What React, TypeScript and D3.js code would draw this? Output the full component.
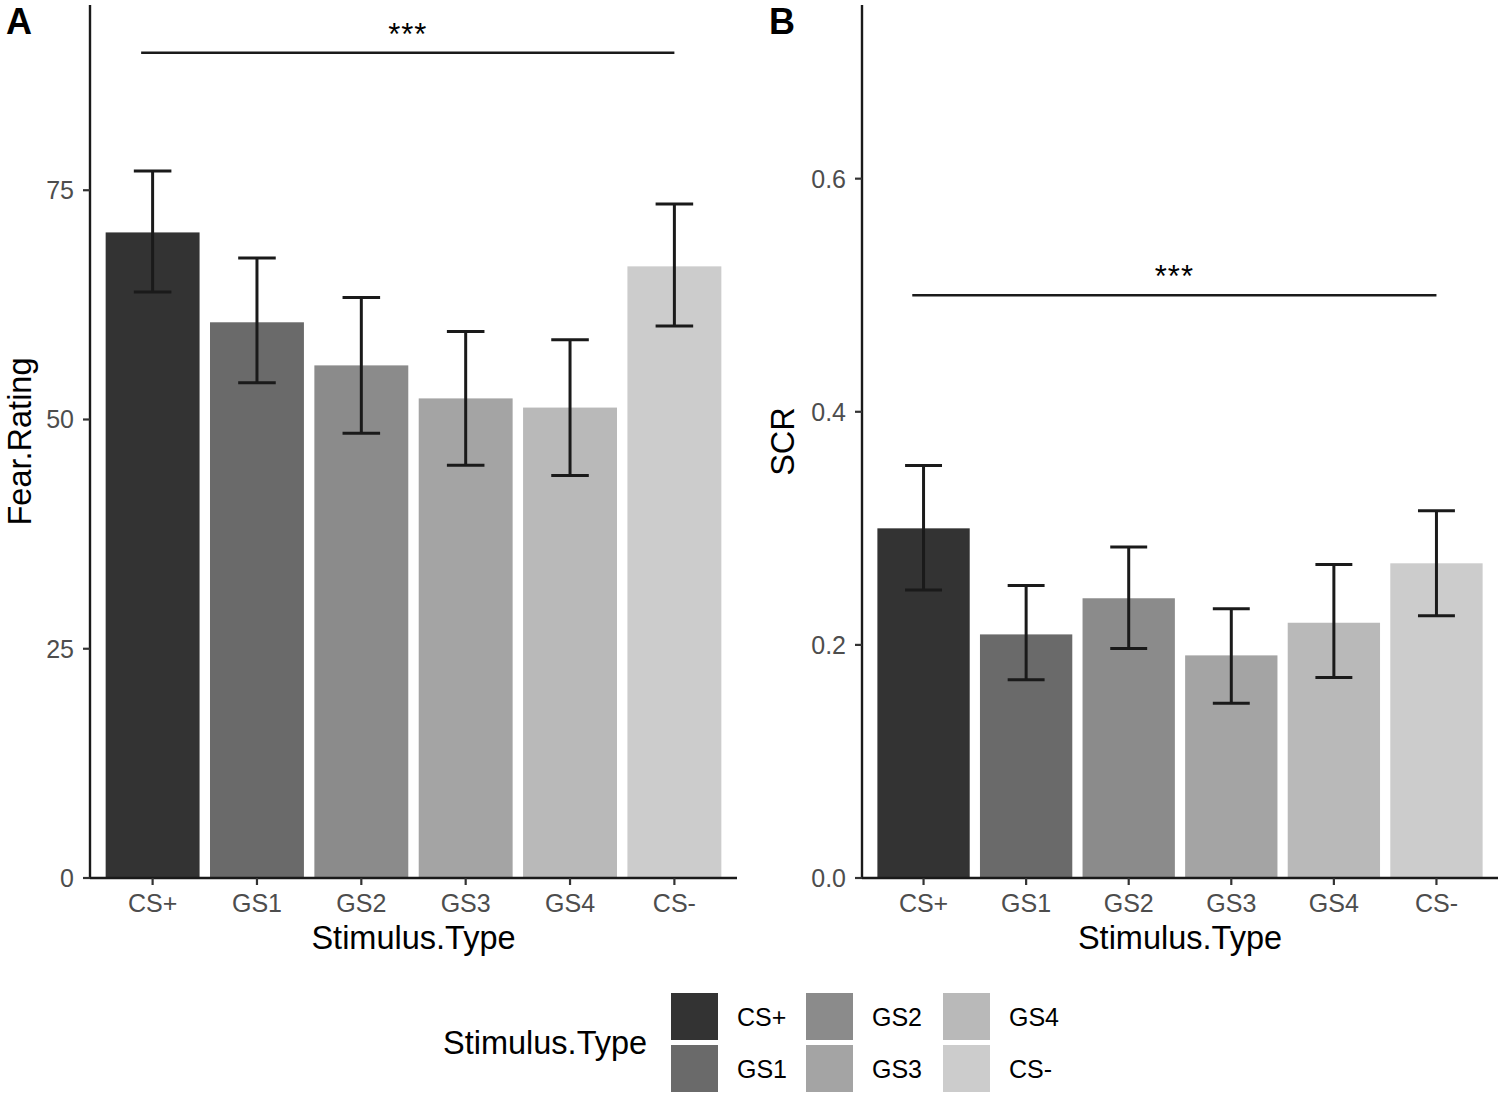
import React from "react";
import * as d3 from "d3";

const categories = ["CS+", "GS1", "GS2", "GS3", "GS4", "CS-"];
const fillColors = ["#333333", "#6a6a6a", "#8b8b8b", "#a4a4a4", "#b9b9b9", "#cccccc"];

const fearMean = [70.4, 60.6, 55.9, 52.3, 51.3, 66.7];
const fearLow = [63.9, 54.0, 48.5, 45.0, 43.9, 60.2];
const fearHigh = [77.1, 67.6, 63.3, 59.6, 58.7, 73.5];
const fearTicks = [0, 25, 50, 75];

const scrMean = [0.3, 0.209, 0.24, 0.191, 0.219, 0.27];
const scrLow = [0.247, 0.17, 0.197, 0.15, 0.172, 0.225];
const scrHigh = [0.354, 0.251, 0.284, 0.231, 0.269, 0.315];
const scrTicks = [0.0, 0.2, 0.4, 0.6];

// significance bracket: from x position 0.89 (just left of CS+) to 6 (CS-), in category units
const sigStart = 0.89;
const sigEnd = 6;

const FONT = "'Liberation Sans', Arial, Helvetica, sans-serif";

type PanelProps = {
  label: string;
  yTitle: string;
  axisX: number;
  axisRight: number;
  yMax: number;
  mean: number[];
  low: number[];
  high: number[];
  ticks: number[];
  tickFmt: (v: number) => string;
  sigY: number;
  labelX: number;
  yTitleX: number;
};

function Panel(p: PanelProps) {
  const top = 5;
  const bottom = 878;
  const y = d3.scaleLinear().domain([0, p.yMax]).range([bottom, top]);
  const n = categories.length;
  // continuous position scale matching ggplot discrete expansion (0.6 on each side)
  const xc = d3.scaleLinear().domain([0.4, n + 0.6]).range([p.axisX, p.axisRight]);
  const x = d3
    .scaleBand<string>()
    .domain(categories)
    .range([xc(0.5), xc(n + 0.5)])
    .paddingInner(0.1)
    .paddingOuter(0.05);
  const cx = (c: string) => (x(c) as number) + x.bandwidth() / 2;
  const capW = x.bandwidth() * 0.4;
  const sigX1 = xc(sigStart);
  const sigX2 = xc(sigEnd);
  return (
    <g>
      <text x={p.labelX} y={34} fontFamily={FONT} fontWeight="bold" fontSize={36} fill="#000">
        {p.label}
      </text>
      {categories.map((c, i) => (
        <rect
          key={c}
          x={x(c)}
          y={y(p.mean[i])}
          width={x.bandwidth()}
          height={bottom - y(p.mean[i])}
          fill={fillColors[i]}
        />
      ))}
      {categories.map((c, i) => (
        <g key={c + "e"} stroke="#1a1a1a" strokeWidth={3}>
          <line x1={cx(c)} x2={cx(c)} y1={y(p.low[i])} y2={y(p.high[i])} />
          <line x1={cx(c) - capW / 2} x2={cx(c) + capW / 2} y1={y(p.low[i])} y2={y(p.low[i])} />
          <line x1={cx(c) - capW / 2} x2={cx(c) + capW / 2} y1={y(p.high[i])} y2={y(p.high[i])} />
        </g>
      ))}
      <line x1={sigX1} x2={sigX2} y1={y(p.sigY)} y2={y(p.sigY)} stroke="#1a1a1a" strokeWidth={2.4} />
      <text
        x={(sigX1 + sigX2) / 2}
        y={y(p.sigY) - 8}
        textAnchor="middle"
        fontFamily={FONT}
        fontSize={31}
        letterSpacing={1}
        fill="#000"
      >
        ***
      </text>
      {/* axes */}
      <line x1={p.axisX} x2={p.axisX} y1={top} y2={bottom} stroke="#1a1a1a" strokeWidth={2.4} />
      <line x1={p.axisX} x2={p.axisRight} y1={bottom} y2={bottom} stroke="#1a1a1a" strokeWidth={2.4} />
      {p.ticks.map((t) => (
        <g key={t}>
          <line x1={p.axisX - 7} x2={p.axisX} y1={y(t)} y2={y(t)} stroke="#333" strokeWidth={2.2} />
          <text
            x={p.axisX - 16}
            y={y(t)}
            dy="0.36em"
            textAnchor="end"
            fontFamily={FONT}
            fontSize={25}
            fill="#4d4d4d"
          >
            {p.tickFmt(t)}
          </text>
        </g>
      ))}
      {categories.map((c) => (
        <g key={c + "t"}>
          <line x1={cx(c)} x2={cx(c)} y1={bottom} y2={bottom + 7} stroke="#333" strokeWidth={2.2} />
          <text x={cx(c)} y={bottom + 34} textAnchor="middle" fontFamily={FONT} fontSize={25} fill="#4d4d4d">
            {c}
          </text>
        </g>
      ))}
      <text
        x={(p.axisX + p.axisRight) / 2}
        y={949}
        textAnchor="middle"
        fontFamily={FONT}
        fontSize={32.5}
        fill="#000"
      >
        Stimulus.Type
      </text>
      <text
        transform={`translate(${p.yTitleX},${(top + bottom) / 2}) rotate(-90)`}
        textAnchor="middle"
        fontFamily={FONT}
        fontSize={32.5}
        fill="#000"
      >
        {p.yTitle}
      </text>
    </g>
  );
}

function Legend() {
  const keyW = 47;
  const keyH = 47;
  const colX = [671, 806, 943];
  const rowY = [993, 1045];
  return (
    <g>
      <text x={443} y={1043} dy="0.35em" fontFamily={FONT} fontSize={32.5} fill="#000">
        Stimulus.Type
      </text>
      {categories.map((c, i) => {
        const col = Math.floor(i / 2);
        const row = i % 2;
        return (
          <g key={c}>
            <rect x={colX[col]} y={rowY[row]} width={keyW} height={keyH} fill={fillColors[i]} />
            <text
              x={colX[col] + keyW + 19}
              y={rowY[row] + keyH / 2}
              dy="0.36em"
              fontFamily={FONT}
              fontSize={25}
              fill="#000"
            >
              {c}
            </text>
          </g>
        );
      })}
    </g>
  );
}

export default function App() {
  return (
    <svg
      width={1504}
      height={1096}
      style={{ position: "absolute", left: 0, top: 0, background: "#fff" }}
    >
      <rect width={1504} height={1096} fill="#fff" />
      <Panel
        label="A"
        yTitle="Fear.Rating"
        axisX={90}
        axisRight={737}
        yMax={95.2}
        mean={fearMean}
        low={fearLow}
        high={fearHigh}
        ticks={fearTicks}
        tickFmt={(v) => String(v)}
        sigY={90}
        labelX={6}
        yTitleX={31}
      />
      <Panel
        label="B"
        yTitle="SCR"
        axisX={862}
        axisRight={1498}
        yMax={0.749}
        mean={scrMean}
        low={scrLow}
        high={scrHigh}
        ticks={scrTicks}
        tickFmt={(v) => d3.format(".1f")(v)}
        sigY={0.5}
        labelX={769}
        yTitleX={794}
      />
      <Legend />
    </svg>
  );
}
